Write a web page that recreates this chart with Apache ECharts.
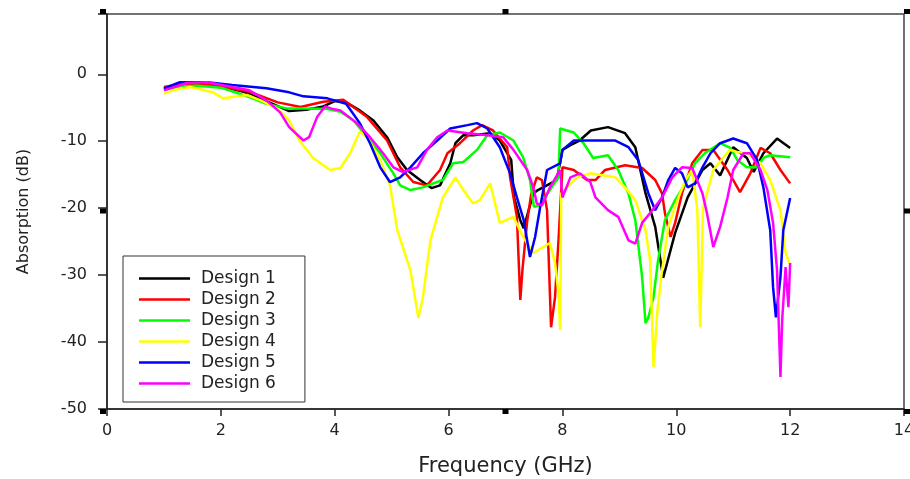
<!DOCTYPE html>
<html><head><meta charset="utf-8">
<script src="https://cdn.jsdelivr.net/npm/echarts@6/dist/echarts.min.js"></script>
<style>html,body{margin:0;padding:0;background:#fff;overflow:hidden;width:910px;height:479px}#c{width:910px;height:479px;display:block}</style>
</head><body><div id="c"></div>
<script>
const seriesNames = ['Design 1','Design 2','Design 3','Design 4','Design 5','Design 6'];
const seriesColors = ['#000000','#ff0000','#00ff00','#ffff00','#0000ff','#ff00ff'];

const f1 = [1.0,1.3,1.6,2.0,2.4,2.8,3.2,3.5,3.8,4.0,4.2,4.44,4.68,4.92,5.1,5.27,5.5,5.7,5.85,6.03,6.12,6.26,6.43,6.73,6.9,7.1,7.15,7.26,7.32,7.4,7.49,7.57,7.9,8.0,8.14,8.3,8.5,8.8,9.1,9.28,9.46,9.63,9.77,9.98,10.2,10.46,10.6,10.77,11.0,11.24,11.36,11.53,11.77,12.0];
const d1 = [-2.2,-1.6,-1.5,-1.8,-2.6,-4.0,-5.5,-5.3,-4.8,-4.0,-4.2,-5.4,-6.9,-9.4,-12.4,-14.3,-15.8,-17.0,-16.6,-13.3,-10.3,-9.1,-9.1,-8.8,-9.9,-12.8,-18.4,-21.8,-23.0,-20.5,-17.8,-17.3,-15.8,-11.3,-10.6,-9.9,-8.4,-7.9,-8.8,-10.9,-17.8,-22.8,-30.4,-23.7,-18.4,-14.3,-13.3,-15.1,-10.9,-12.5,-14.6,-11.8,-9.6,-11.0];

const f2 = [1.0,1.3,1.6,2.0,2.5,3.0,3.4,3.8,4.15,4.57,4.92,5.15,5.38,5.62,5.85,5.98,6.2,6.43,6.59,6.78,7.03,7.08,7.2,7.26,7.3,7.38,7.45,7.55,7.64,7.73,7.8,7.87,7.93,8.0,8.2,8.43,8.58,8.75,9.1,9.4,9.63,9.75,9.8,9.9,9.98,10.1,10.28,10.46,10.65,10.9,11.12,11.3,11.48,11.65,11.83,12.0];
const d2 = [-1.9,-1.5,-1.4,-1.8,-2.6,-4.2,-4.9,-4.1,-3.8,-6.4,-9.9,-13.9,-16.1,-16.6,-14.3,-11.8,-10.3,-8.4,-7.6,-8.4,-10.9,-15.4,-21.3,-33.7,-29.0,-22.0,-18.0,-15.4,-15.8,-20.3,-37.8,-33.3,-25.0,-13.9,-14.3,-15.8,-15.8,-14.3,-13.6,-14.0,-15.8,-17.8,-20.7,-24.3,-22.2,-17.8,-13.3,-11.3,-11.3,-14.3,-17.6,-14.8,-11.0,-11.8,-14.3,-16.3];

const f3 = [1.0,1.3,1.6,2.0,2.5,2.8,3.15,3.5,3.87,4.1,4.33,4.57,4.8,5.03,5.15,5.33,5.55,5.73,5.9,6.08,6.26,6.5,6.68,6.9,7.14,7.31,7.43,7.5,7.6,7.78,7.93,7.96,8.2,8.37,8.54,8.8,8.98,9.16,9.28,9.4,9.46,9.51,9.6,9.68,9.8,9.98,10.16,10.33,10.5,10.77,10.95,11.07,11.24,11.42,11.53,11.65,12.0];
const d3 = [-2.3,-1.8,-1.7,-2.0,-3.4,-4.4,-5.1,-5.1,-5.2,-5.6,-6.9,-9.4,-11.8,-14.8,-16.6,-17.3,-16.9,-16.3,-15.8,-13.3,-13.1,-11.3,-9.1,-8.7,-9.9,-12.4,-15.8,-19.8,-19.6,-17.3,-15.4,-8.1,-8.7,-10.3,-12.5,-12.1,-14.3,-17.8,-21.8,-30.3,-37.2,-36.3,-33.3,-27.8,-21.8,-18.8,-16.3,-13.3,-11.8,-10.3,-11.0,-12.8,-13.9,-13.9,-12.5,-12.1,-12.4];

const f4 = [1.0,1.2,1.46,1.86,2.04,2.2,2.46,2.7,2.98,3.2,3.39,3.62,3.92,4.1,4.27,4.44,4.57,4.8,4.97,5.1,5.33,5.47,5.55,5.68,5.8,5.9,6.12,6.26,6.43,6.55,6.73,6.9,7.14,7.31,7.49,7.78,7.87,7.93,7.96,7.98,8.08,8.26,8.49,8.93,9.1,9.28,9.46,9.54,9.6,9.67,9.75,9.86,10.02,10.16,10.28,10.37,10.42,10.47,10.65,10.83,10.95,11.07,11.24,11.48,11.65,11.83,11.92,12.0];
const d4 = [-2.9,-2.3,-1.9,-2.7,-3.6,-3.4,-3.1,-3.9,-5.1,-6.9,-10.0,-12.5,-14.3,-14.0,-11.8,-8.6,-9.4,-12.8,-16.6,-23.3,-29.3,-36.4,-33.3,-24.8,-21.3,-18.4,-15.4,-17.3,-19.3,-18.8,-16.3,-22.2,-21.3,-24.3,-26.7,-25.2,-28.2,-32.7,-38.2,-17.8,-16.9,-15.4,-14.8,-15.4,-16.9,-18.8,-23.3,-27.8,-43.7,-35.2,-29.3,-22.8,-18.8,-15.8,-14.3,-20.3,-37.8,-20.0,-14.3,-12.4,-11.3,-11.6,-11.8,-13.3,-15.8,-20.3,-26.7,-28.5];

const f5 = [1.0,1.28,1.76,2.2,2.8,3.2,3.45,3.87,4.2,4.44,4.62,4.8,4.97,5.15,5.33,5.55,5.8,6.03,6.33,6.5,6.68,6.9,7.08,7.2,7.32,7.43,7.52,7.61,7.73,7.96,8.0,8.2,8.49,8.93,9.16,9.33,9.51,9.63,9.75,9.86,9.98,10.1,10.2,10.33,10.46,10.6,10.77,11.0,11.24,11.42,11.53,11.65,11.7,11.75,11.83,11.88,12.0];
const d5 = [-2.1,-1.2,-1.2,-1.6,-2.1,-2.7,-3.3,-3.6,-4.4,-7.3,-10.3,-13.9,-16.1,-15.4,-13.9,-11.8,-9.9,-8.1,-7.6,-7.3,-8.1,-10.9,-14.8,-18.4,-21.8,-27.3,-24.3,-19.8,-14.3,-13.3,-11.3,-9.9,-9.9,-9.9,-10.9,-12.8,-17.8,-20.3,-18.4,-15.8,-14.0,-14.8,-16.9,-16.3,-13.9,-11.8,-10.3,-9.6,-10.3,-12.8,-16.9,-23.3,-31.8,-36.3,-30.3,-23.3,-18.5];

const f6 = [1.0,1.4,1.76,2.2,2.5,2.8,3.04,3.2,3.45,3.55,3.69,3.83,3.97,4.1,4.39,4.62,4.85,5.03,5.2,5.45,5.62,5.8,5.98,6.33,6.68,6.96,7.14,7.38,7.49,7.55,7.64,7.78,7.96,8.0,8.14,8.31,8.49,8.58,8.8,8.98,9.16,9.28,9.4,9.58,9.75,9.93,10.1,10.28,10.46,10.54,10.65,10.77,10.9,11.0,11.18,11.3,11.48,11.6,11.7,11.77,11.83,11.86,11.92,11.97,12.0];
const d6 = [-2.4,-1.3,-1.2,-1.9,-2.4,-3.9,-5.7,-7.9,-9.9,-9.4,-6.4,-4.8,-5.2,-5.4,-7.3,-9.4,-11.8,-13.9,-14.6,-13.9,-11.3,-9.4,-8.4,-8.8,-9.1,-9.4,-11.3,-14.3,-16.9,-19.3,-19.6,-16.9,-14.3,-18.4,-15.4,-14.8,-16.1,-18.4,-20.3,-21.3,-24.8,-25.3,-22.2,-20.3,-18.4,-15.4,-13.9,-14.0,-17.8,-20.8,-25.8,-22.8,-18.4,-14.3,-11.8,-11.8,-14.3,-17.3,-22.2,-29.3,-45.2,-36.7,-28.8,-34.8,-28.2];

const freqs = [f1,f2,f3,f4,f5,f6];
const dbs = [d1,d2,d3,d4,d5,d6];

const X_MIN = 0, X_MAX = 14, X_STEP = 2;
const Y_MIN = -50, Y_MAX = 9, Y_STEP = 10;

const G = {left:107, right:6, top:14, bottom:70};
const FONT = 'DejaVu Sans';

const chart = echarts.init(document.getElementById('c'), null, {renderer:'canvas', width:910, height:479});
const W = chart.getWidth(), H = chart.getHeight();

// legend icon: a 2.5px-thick line centred in a 51x14 box
const LINE_ICON = 'path://M0 0 L0.01 0 L0 0 Z M0 14 L0.01 14 L0 14 Z M0 5.75 L51 5.75 L51 8.25 L0 8.25 Z';

const series = seriesNames.map((n,i)=>({
  name:n, type:'line', symbol:'none', smooth:false,
  data: freqs[i].map((f,k)=>[f, dbs[i][k]]),
  lineStyle:{color:seriesColors[i], width:2.5},
  itemStyle:{color:seriesColors[i]},
  emphasis:{disabled:true}
}));

// SigmaPlot-like selection handles around the frame
const x0 = G.left, x1 = W - G.right, y0 = G.top, y1 = H - G.bottom;
const xm = (x0+x1)/2, ym = (y0+y1)/2;
const hs = [
  [x0-7,y0-5],[xm-3,y0-5],[x1,y0-5],
  [x0-7,ym-3],[x1,ym-3],
  [x0-7,y1],[xm-3,y1],[x1,y1]
];
const graphics = hs.map(p=>({type:'rect', shape:{x:p[0],y:p[1],width:6,height:5}, style:{fill:'#000'}, z:100}));

chart.setOption({
  animation:false,
  backgroundColor:'#fff',
  grid:{left:G.left, right:G.right, top:G.top, bottom:G.bottom, outerBoundsMode:'none', containLabel:false,
        show:true, borderColor:'#444', borderWidth:1.5, backgroundColor:'transparent'},
  xAxis:{
    type:'value', min:X_MIN, max:X_MAX, interval:X_STEP,
    name:'Frequency (GHz)', nameLocation:'middle', nameGap:47,
    nameTextStyle:{fontFamily:FONT, fontSize:21, color:'#222'},
    axisLine:{show:true, onZero:false, lineStyle:{color:'#222', width:1.5}},
    axisTick:{show:true, inside:false, length:7, lineStyle:{color:'#222', width:1.5}},
    axisLabel:{fontFamily:FONT, fontSize:16, color:'#222', margin:14},
    splitLine:{show:false}
  },
  yAxis:{
    type:'value', min:Y_MIN, max:Y_MAX, interval:Y_STEP,
    name:'Absorption (dB)', nameLocation:'middle', nameGap:75, nameRotate:90,
    nameTextStyle:{fontFamily:FONT, fontSize:16, color:'#222'},
    axisLine:{show:true, onZero:false, lineStyle:{color:'#222', width:1.5}},
    axisTick:{show:true, inside:false, length:9, lineStyle:{color:'#222', width:1.5}},
    axisLabel:{fontFamily:FONT, fontSize:16, color:'#222', margin:20, formatter:v=> v>0 ? '' : String(v)},
    splitLine:{show:false}
  },
  legend:{
    data:seriesNames.map(n=>({name:n, icon:LINE_ICON})),
    orient:'vertical', left:123, top:256,
    padding:[14,29,10,16], itemWidth:51, itemHeight:14, itemGap:4,
    borderColor:'#333', borderWidth:1, backgroundColor:'#fff',
    textStyle:{fontFamily:FONT, fontSize:17, color:'#222', padding:[0,0,0,6]},
    selectedMode:false
  },
  graphic:graphics,
  series:series
});
</script>
</body></html>
